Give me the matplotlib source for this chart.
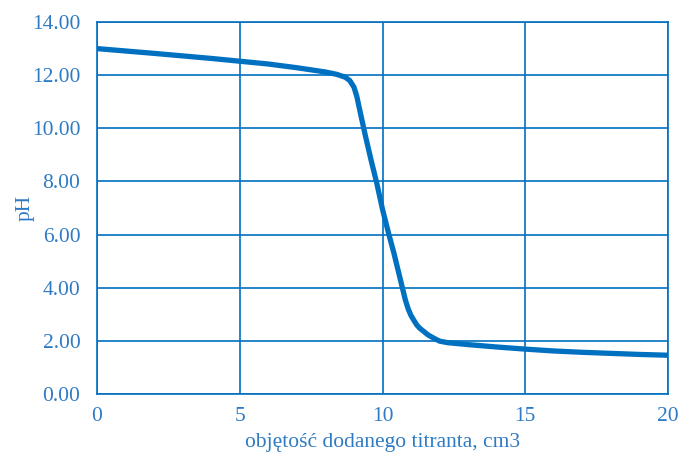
import matplotlib.pyplot as plt

# objętość titranta (cm3) i odczytane pH
volume = [0, 2, 4, 6, 7, 8, 8.4, 8.7, 8.85, 9.0, 9.1, 9.2, 9.4, 9.6, 9.8,
          10.0, 10.2, 10.4, 10.6, 10.8, 10.9, 11.0, 11.1, 11.2, 11.3, 11.45,
          11.6, 11.8, 12.0, 12.3, 13, 14, 15, 16, 17, 18, 19, 20]
ph = [13.0, 12.82, 12.63, 12.42, 12.28, 12.12, 12.03, 11.92, 11.8, 11.55,
      11.2, 10.7, 9.72, 8.8, 7.93, 6.95, 6.1, 5.3, 4.42, 3.54, 3.2, 2.95,
      2.77, 2.6, 2.48, 2.35, 2.22, 2.1, 1.99, 1.93, 1.86, 1.77, 1.69, 1.62,
      1.57, 1.53, 1.49, 1.46]

x_ticks = [0, 5, 10, 15, 20]
y_ticks = [0, 2, 4, 6, 8, 10, 12, 14]

blue = '#0070C0'
text_blue = '#2E7BC4'

plt.rcParams['font.family'] = ['Liberation Serif', 'DejaVu Serif']

fig = plt.figure(figsize=(6.81, 4.55), dpi=100)
ax = fig.add_axes([0.1424, 0.134, 0.981 - 0.1424, 0.9516 - 0.134])

ax.plot(volume, ph, '-', color=blue, linewidth=3.8, solid_capstyle='round',
        solid_joinstyle='round', zorder=3)

ax.set_xlim(0, 20)
ax.set_ylim(0, 14)
ax.set_xticks(x_ticks)
ax.set_yticks(y_ticks)
ax.set_yticklabels(['%.2f' % v for v in y_ticks])
ax.grid(True, color=blue, linewidth=1.2)
ax.set_axisbelow(True)
for sp in ax.spines.values():
    sp.set_color(blue)
    sp.set_linewidth(1.2)
ax.tick_params(axis='both', colors=text_blue, labelsize=15.5, length=0)
ax.tick_params(axis='y', pad=12)
ax.tick_params(axis='x', pad=9)

ax.set_ylabel('pH', color=text_blue, fontsize=15.5)
ax.yaxis.set_label_coords(-0.109, 0.50)
ax.set_xlabel('objętość dodanego titranta, cm3', color=text_blue,
              fontsize=15.5)
ax.xaxis.set_label_coords(0.5, -0.105)
ax.xaxis.label.set_va('top')

plt.savefig('out.png', dpi=100)
